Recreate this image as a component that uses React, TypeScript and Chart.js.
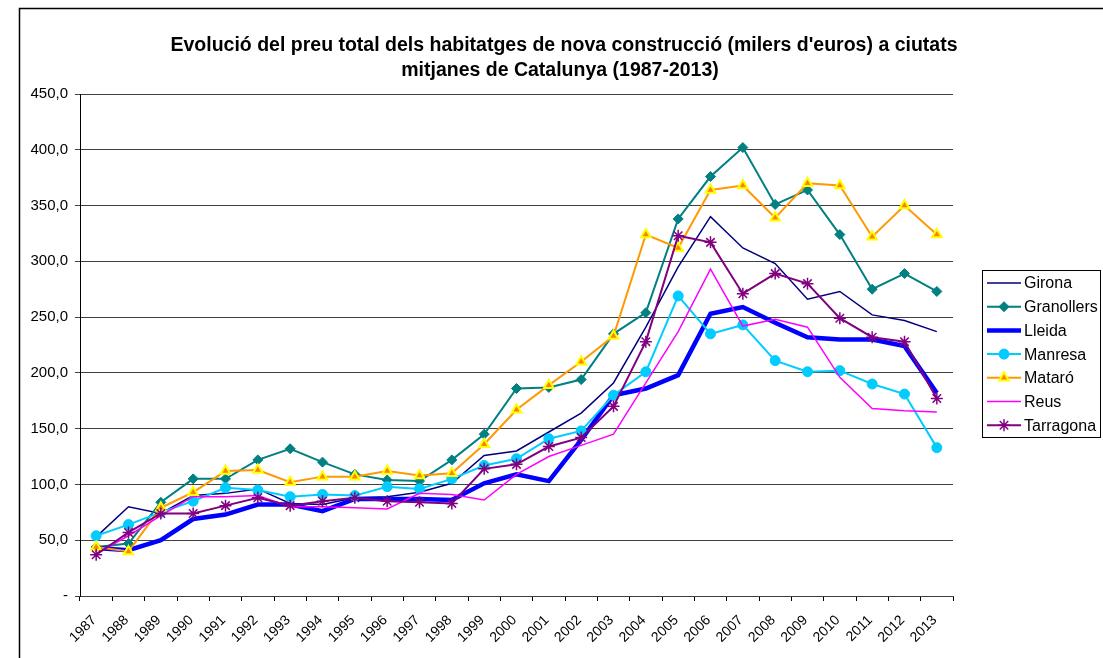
import React, { useEffect, useRef } from "react";
import { Chart, registerables } from "chart.js";
import { drawPoint } from "chart.js/helpers";

Chart.register(...registerables);

const years = ["1987","1988","1989","1990","1991","1992","1993","1994","1995","1996","1997","1998","1999","2000","2001","2002","2003","2004","2005","2006","2007","2008","2009","2010","2011","2012","2013"];

const girona = [53, 80, 74, 90, 92, 96, 83, 82, 88, 89, 93, 101, 126, 130, 147, 164, 191, 241, 295, 340, 312, 298, 266, 273, 252, 247, 237];
const granollers = [44, 47, 84, 105, 105, 122, 132, 120, 109, 104, 103, 122, 145, 186, 187, 194, 235, 254, 338, 376, 402, 351, 364, 324, 275, 289, 273];
const lleida = [43, 41, 50, 69, 73, 82, 82, 76, 87, 87, 87, 86, 101, 109, 103, 140, 180, 186, 198, 253, 259, 245, 232, 230, 230, 224, 182];
const manresa = [54, 64, 75, 85, 97, 95, 89, 91, 90, 98, 96, 105, 117, 123, 141, 148, 180, 201, 269, 235, 243, 211, 201, 202, 190, 181, 133];
const mataro = [44, 40, 79, 93, 112, 113, 102, 107, 107, 112, 108, 110, 136, 167, 189, 210, 233, 324, 312, 364, 368, 339, 370, 368, 322, 350, 324];
const reus = [38, 54, 72, 89, 89, 90, 80, 80, 79, 78, 92, 91, 86, 109, 125, 135, 145, 191, 237, 293, 242, 248, 241, 196, 168, 166, 165];
const tarragona = [37, 57, 74, 74, 81, 88, 81, 85, 88, 85, 84, 83, 114, 118, 134, 142, 170, 228, 323, 317, 271, 289, 280, 249, 232, 228, 177];

const titleLines = [
  "Evolució del preu total dels habitatges de nova construcció (milers d'euros) a ciutats",
  "mitjanes de Catalunya (1987-2013)",
];

const FONT = "'Liberation Sans', Arial, sans-serif";

const framePlugin = {
  id: "frameTitleLegend",
  beforeDraw(chart: any) {
    const ctx = chart.ctx;
    ctx.save();
    ctx.fillStyle = "#fff";
    ctx.fillRect(0, 0, chart.width, chart.height);
    ctx.strokeStyle = "#000";
    ctx.lineWidth = 1.5;
    ctx.strokeRect(19.5, 8.5, 1200, 900);
    ctx.restore();
  },
  afterDraw(chart: any) {
    const ctx = chart.ctx;
    ctx.save();
    // title
    ctx.fillStyle = "#000";
    ctx.font = `bold 19.5px ${FONT}`;
    ctx.textAlign = "center";
    ctx.textBaseline = "middle";
    ctx.fillText(titleLines[0], 564, 46);
    ctx.fillText(titleLines[1], 560, 71);
    // legend
    ctx.lineWidth = 1;
    ctx.strokeStyle = "#000";
    ctx.strokeRect(982.5, 270.5, 118, 167);
    const ds = chart.data.datasets;
    ds.forEach((d: any, i: number) => {
      const y = 283 + i * 23.7;
      ctx.beginPath();
      ctx.strokeStyle = d.borderColor;
      ctx.lineWidth = d.borderWidth;
      ctx.moveTo(987, y);
      ctx.lineTo(1021, y);
      ctx.stroke();
      if (d.pointRadius > 0) {
        ctx.fillStyle = d.pointBackgroundColor;
        ctx.strokeStyle = d.pointBorderColor;
        ctx.lineWidth = d.pointBorderWidth;
        drawPoint(ctx, { pointStyle: d.pointStyle, rotation: 0, radius: d.pointRadius, borderWidth: d.pointBorderWidth }, 1004, y);
      }
      ctx.fillStyle = "#000";
      ctx.font = `16px ${FONT}`;
      ctx.textAlign = "left";
      ctx.textBaseline = "middle";
      ctx.fillText(d.label, 1024, y + 1);
    });
    ctx.restore();
  },
};

export default function App() {
  const ref = useRef<HTMLCanvasElement>(null);
  useEffect(() => {
    if (!ref.current) return;
    const series = [
      { label: "Girona", data: girona, borderColor: "#000080", borderWidth: 1.5, pointRadius: 0, pointStyle: "circle", pointBackgroundColor: "#000080", pointBorderColor: "#000080", pointBorderWidth: 0 },
      { label: "Granollers", data: granollers, borderColor: "#008080", borderWidth: 2, pointRadius: 5, pointStyle: "rectRot", pointBackgroundColor: "#008080", pointBorderColor: "#008080", pointBorderWidth: 1 },
      { label: "Lleida", data: lleida, borderColor: "#0000FF", borderWidth: 4.5, pointRadius: 0, pointStyle: "circle", pointBackgroundColor: "#0000FF", pointBorderColor: "#0000FF", pointBorderWidth: 0 },
      { label: "Manresa", data: manresa, borderColor: "#00CCFF", borderWidth: 2, pointRadius: 5, pointStyle: "circle", pointBackgroundColor: "#00CCFF", pointBorderColor: "#00CCFF", pointBorderWidth: 1 },
      { label: "Mataró", data: mataro, borderColor: "#FF9900", borderWidth: 2, pointRadius: 5.5, pointStyle: "triangle", pointBackgroundColor: "#FF8000", pointBorderColor: "#FFFF00", pointBorderWidth: 2 },
      { label: "Reus", data: reus, borderColor: "#FF00FF", borderWidth: 1.5, pointRadius: 0, pointStyle: "circle", pointBackgroundColor: "#FF00FF", pointBorderColor: "#FF00FF", pointBorderWidth: 0 },
      { label: "Tarragona", data: tarragona, borderColor: "#800080", borderWidth: 2, pointRadius: 6, pointStyle: "star", pointBackgroundColor: "#800080", pointBorderColor: "#800080", pointBorderWidth: 1.5 },
    ];
    const datasets = series.map((s, i) => ({
      ...s,
      order: series.length - i,
      fill: false,
      tension: 0,
      pointHoverRadius: s.pointRadius,
    }));
    const chart = new Chart(ref.current, {
      type: "line",
      data: { labels: years, datasets },
      plugins: [framePlugin],
      options: {
        animation: false,
        responsive: false,
        devicePixelRatio: 1,
        layout: { padding: { left: 0, top: 94, right: 150, bottom: 0 } },
        plugins: { legend: { display: false }, title: { display: false }, tooltip: { enabled: false } },
        scales: {
          x: {
            type: "category",
            offset: true,
            afterFit: (s: any) => { s.height = 62; },
            grid: { display: true, offset: true, drawOnChartArea: false, drawTicks: true, tickLength: 5, color: "#000", lineWidth: 1 },
            border: { display: true, color: "#404040", width: 1 },
            ticks: { autoSkip: false, maxRotation: 45, minRotation: 45, padding: 11, labelOffset: -2, color: "#000", font: { family: FONT, size: 14 } },
          },
          y: {
            min: 0,
            max: 450,
            afterFit: (s: any) => { s.width = 80; },
            grid: { display: true, drawTicks: true, tickLength: 5, color: "#404040", lineWidth: 1 },
            border: { display: true, color: "#000", width: 1 },
            ticks: {
              stepSize: 50,
              padding: 7,
              color: "#000",
              font: { family: FONT, size: 15 },
              callback: (v: any) => (Number(v) === 0 ? "-" : Number(v).toFixed(1).replace(".", ",")),
            },
          },
        },
      } as any,
    });
    return () => chart.destroy();
  }, []);
  return (
    <div style={{ position: "fixed", left: 0, top: 0, width: 1103, height: 658, background: "#fff" }}>
      <canvas ref={ref} width={1103} height={658} style={{ display: "block" }} />
    </div>
  );
}
